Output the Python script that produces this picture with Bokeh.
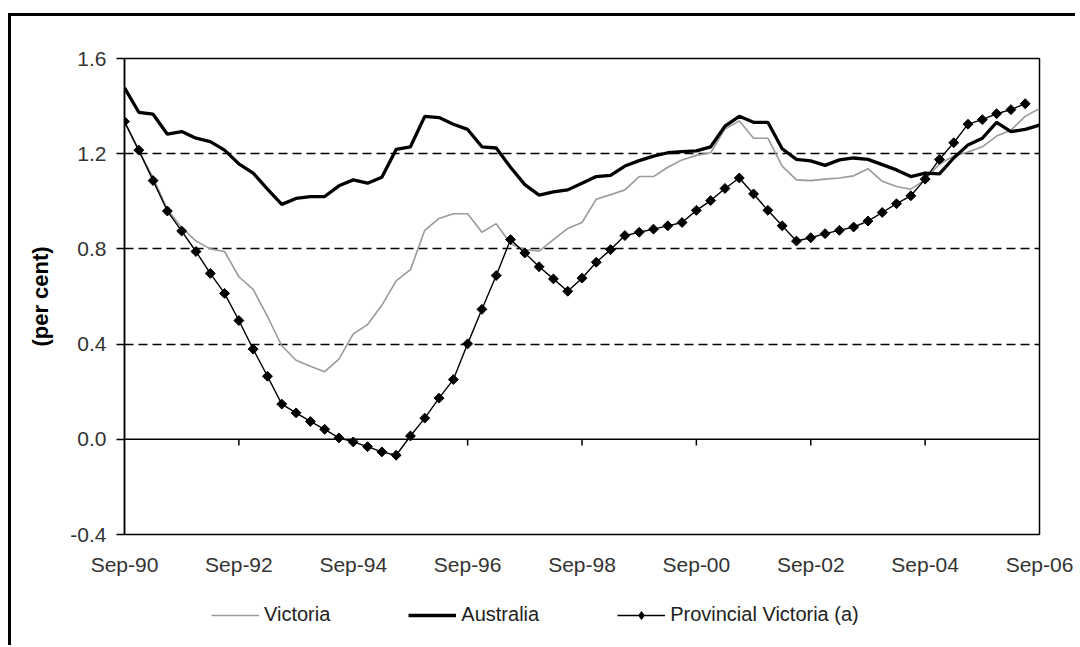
import math
from bokeh.plotting import figure
from bokeh.layouts import column
from bokeh.models import (Range1d, FixedTicker, PrintfTickFormatter, Span,
                          Legend, LegendItem)
from bokeh.embed import file_html
from bokeh.resources import INLINE

# ---- data (quarterly, Sep-90 .. Sep-06) ----
months = ["Sep", "Dec", "Mar", "Jun"]
quarters = []
for k in range(65):
    m = months[k % 4]
    yr = 90 + (k + 3) // 4
    quarters.append(f"{m}-{yr % 100:02d}")

victoria = [1.335, 1.21, 1.10, 0.965, 0.89, 0.833, 0.80, 0.789, 0.683, 0.630,
            0.516, 0.393, 0.332, 0.307, 0.284, 0.337, 0.443, 0.482, 0.563, 0.666,
            0.713, 0.878, 0.928, 0.948, 0.948, 0.870, 0.906, 0.822, 0.797, 0.791,
            0.839, 0.886, 0.911, 1.009, 1.028, 1.048, 1.104, 1.104, 1.143, 1.174,
            1.193, 1.204, 1.304, 1.338, 1.265, 1.265, 1.148, 1.090, 1.087, 1.093,
            1.098, 1.107, 1.137, 1.084, 1.062, 1.051, 1.09, 1.157, 1.190, 1.207,
            1.229, 1.274, 1.299, 1.357, 1.39]

australia = [1.477, 1.374, 1.366, 1.282, 1.293, 1.265, 1.251, 1.215, 1.157, 1.118,
             1.051, 0.987, 1.012, 1.020, 1.020, 1.065, 1.090, 1.076, 1.101, 1.218,
             1.229, 1.357, 1.352, 1.324, 1.302, 1.229, 1.224, 1.143, 1.070, 1.026,
             1.040, 1.048, 1.076, 1.104, 1.109, 1.148, 1.171, 1.190, 1.204, 1.209,
             1.212, 1.229, 1.316, 1.357, 1.332, 1.332, 1.221, 1.176, 1.170, 1.151,
             1.174, 1.182, 1.176, 1.154, 1.132, 1.104, 1.118, 1.115, 1.182, 1.237,
             1.265, 1.332, 1.293, 1.302, 1.320]

provincial = [1.335, 1.215, 1.087, 0.959, 0.875, 0.789, 0.697, 0.613, 0.499, 0.379,
              0.265, 0.148, 0.111, 0.075, 0.042, 0.006, -0.011, -0.031, -0.053, -0.067,
              0.014, 0.089, 0.173, 0.251, 0.401, 0.546, 0.688, 0.839, 0.783, 0.725,
              0.674, 0.622, 0.677, 0.744, 0.797, 0.856, 0.870, 0.883, 0.897, 0.911,
              0.962, 1.003, 1.054, 1.098, 1.031, 0.962, 0.897, 0.833, 0.847, 0.864,
              0.878, 0.892, 0.917, 0.953, 0.990, 1.023, 1.093, 1.176, 1.246, 1.324,
              1.343, 1.368, 1.385, 1.410]

tick_labels = ["Sep-90", "Sep-92", "Sep-94", "Sep-96", "Sep-98",
               "Sep-00", "Sep-02", "Sep-04", "Sep-06"]
y_ticks = [-0.4, 0.0, 0.4, 0.8, 1.2, 1.6]
series_names = ["Victoria", "Australia", "Provincial Victoria (a)"]

x_all = list(range(len(quarters)))
x_prov = x_all[:len(provincial)]
tick_pos = [quarters.index(t) for t in tick_labels]

FONT = "Liberation Sans"
VIC_COLOR = "#9a9a9a"

# ---------------- main chart ----------------
p = figure(width=1064, height=563, output_backend="svg", toolbar_location=None,
           x_range=Range1d(0, len(quarters) - 1), y_range=Range1d(-0.4, 1.6),
           min_border_left=113, min_border_top=42, min_border_right=36,
           min_border_bottom=45)
p.background_fill_color = "white"
p.border_fill_color = "white"
p.outline_line_color = "black"
p.outline_line_width = 1.5
p.outline_line_alpha = 1.0

# grid
p.xgrid.visible = False
p.ygrid.ticker = FixedTicker(ticks=[0.4, 0.8, 1.2])
p.ygrid.grid_line_color = "black"
p.ygrid.grid_line_dash = "9 5"
p.ygrid.grid_line_width = 1.3

# y axis
ya = p.yaxis[0]
ya.ticker = FixedTicker(ticks=y_ticks)
ya.formatter = PrintfTickFormatter(format="%.1f")
ya.axis_line_color = "black"
ya.axis_line_width = 1.5
ya.major_tick_line_color = "black"
ya.major_tick_line_width = 1.5
ya.major_tick_out = 8
ya.major_tick_in = 0
ya.minor_tick_line_color = None
ya.major_label_standoff = 10
ya.major_label_text_font = FONT
ya.major_label_text_font_size = "21px"
ya.major_label_text_color = "#333333"
ya.axis_label = "(per cent)"
ya.axis_label_text_font = FONT
ya.axis_label_text_font_style = "bold"
ya.axis_label_text_font_size = "22px"
ya.axis_label_text_color = "black"
ya.axis_label_standoff = 14

# x axis (labels only at bottom)
xa = p.xaxis[0]
xa.ticker = FixedTicker(ticks=tick_pos)
xa.major_label_overrides = {pos: lab for pos, lab in zip(tick_pos, tick_labels)}
xa.axis_line_color = None
xa.major_tick_line_color = None
xa.major_tick_out = 0
xa.major_tick_in = 0
xa.minor_tick_line_color = None
xa.major_label_standoff = 18
xa.major_label_text_font = FONT
xa.major_label_text_font_size = "21px"
xa.major_label_text_color = "#333333"

# zero line with tick marks (the category axis crosses at 0)
p.add_layout(Span(location=0, dimension="width", line_color="black", line_width=1.5))
inner_ticks = tick_pos[1:-1]
p.segment(x0=inner_ticks, y0=[0] * len(inner_ticks), x1=inner_ticks,
          y1=[-0.026] * len(inner_ticks), line_color="black", line_width=1.5)

# series
p.line(x_all, victoria, line_color=VIC_COLOR, line_width=1.6)
p.line(x_all, australia, line_color="black", line_width=3.3)
p.line(x_prov, provincial, line_color="black", line_width=1.4)
p.scatter(x_prov, provincial, marker="square", angle=math.pi / 4,
          size=7, fill_color="black", line_color="black")

# ---------------- legend strip ----------------
# the same series are attached here (kept outside this strip's view range)
# only so that the legend has real renderers to draw its samples from
lg = figure(width=1064, height=66, output_backend="svg", toolbar_location=None,
            x_axis_type=None, y_axis_type=None, min_border=0,
            x_range=Range1d(0, len(quarters) - 1), y_range=Range1d(10, 11))
lg.outline_line_color = None
lg.background_fill_color = "white"
lg.border_fill_color = "white"
lr_vic = lg.line(x_all, victoria, line_color=VIC_COLOR, line_width=1.6)
lr_aus = lg.line(x_all, australia, line_color="black", line_width=3.3)
lr_pl = lg.line(x_prov, provincial, line_color="black", line_width=1.4)
lr_pm = lg.scatter(x_prov, provincial, marker="diamond", size=12,
                   fill_color="black", line_color="black")

legend = Legend(items=[
    LegendItem(label=series_names[0], renderers=[lr_vic]),
    LegendItem(label=series_names[1], renderers=[lr_aus]),
    LegendItem(label=series_names[2], renderers=[lr_pl, lr_pm]),
], location=(87, 19), orientation="horizontal")
legend.margin = 0
legend.padding = 0
legend.spacing = 78
legend.glyph_width = 48
legend.glyph_height = 20
legend.label_height = 20
legend.label_standoff = 5
legend.label_text_font = FONT
legend.label_text_font_size = "20px"
legend.label_text_color = "#222222"
legend.border_line_alpha = 0
legend.background_fill_alpha = 0
lg.add_layout(legend, "center")

layout = column(p, lg, spacing=0)
layout.styles = {"border-top": "3px solid black", "border-left": "3px solid black",
                 "margin-top": "13px", "margin-left": "8px"}

open("out.html", "w").write(file_html(layout, INLINE))
